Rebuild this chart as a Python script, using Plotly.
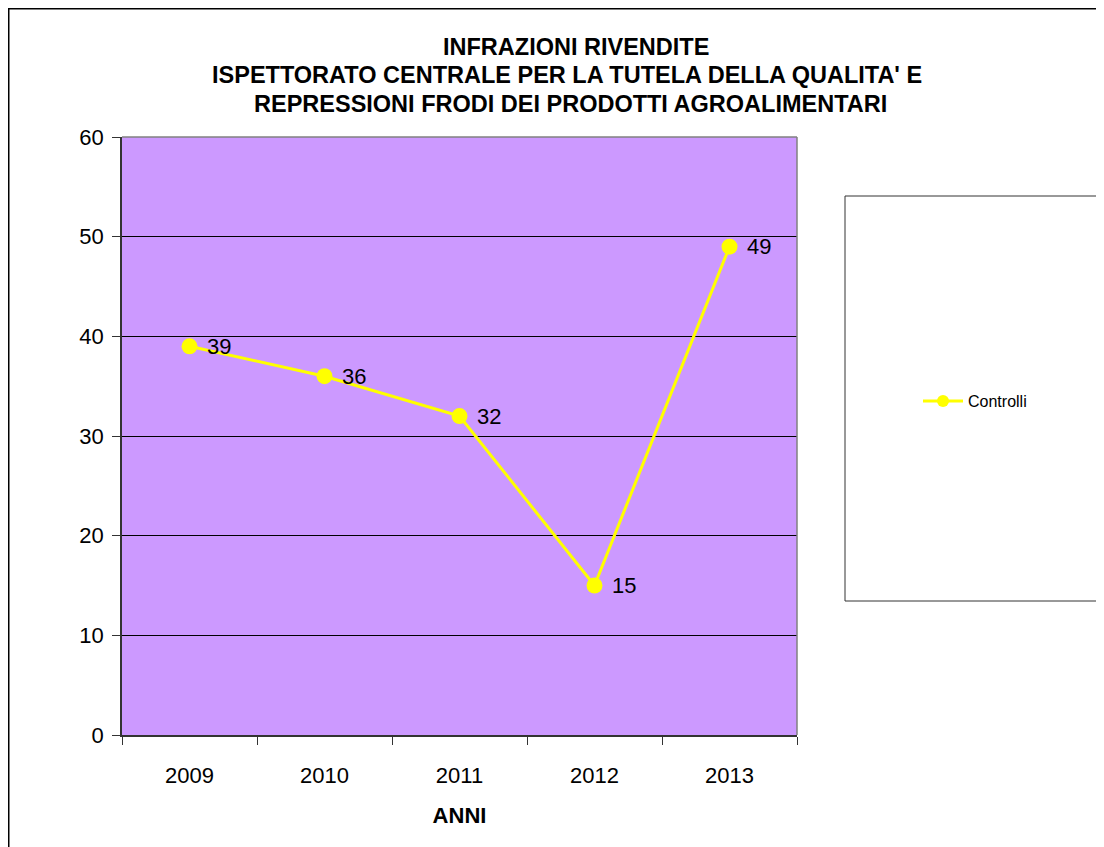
import plotly.graph_objects as go

# ---- data ----
categories = ["2009", "2010", "2011", "2012", "2013"]
values = [39, 36, 32, 15, 49]
series_name = "Controlli"
title_lines = [
    "INFRAZIONI RIVENDITE",
    "ISPETTORATO CENTRALE PER LA TUTELA DELLA QUALITA' E",
    "REPRESSIONI FRODI DEI PRODOTTI AGROALIMENTARI",
]
x_title = "ANNI"
y_ticks = [0, 10, 20, 30, 40, 50, 60]

# ---- layout geometry (figure pixels; page adds an 8px body margin) ----
W, H = 1096, 839
L, T = 114, 129
R, B = W - 789, H - 727
PW = W - L - R
PH = H - T - B


def px_x(p):
    return (p - L) / PW


def px_y(p):
    return (H - B - p) / PH


FONT = "Liberation Sans, Arial, sans-serif"
YELLOW = "#FFFF00"

fig = go.Figure()
fig.add_trace(go.Scatter(
    x=categories, y=values, mode="lines+markers", name=series_name,
    line=dict(color=YELLOW, width=3),
    marker=dict(color=YELLOW, size=16),
    showlegend=False,
))
# legend entry (smaller marker, as in the original legend)
fig.add_trace(go.Scatter(
    x=[None], y=[None], mode="lines+markers", name=series_name,
    line=dict(color=YELLOW, width=3),
    marker=dict(color=YELLOW, size=12),
    showlegend=True,
))

annotations = []
for i, v in enumerate(values):
    annotations.append(dict(
        x=i, y=v, xref="x", yref="y", text=str(v), showarrow=False,
        xanchor="left", yanchor="middle", xshift=15,
        font=dict(family=FONT, size=22, color="black"),
    ))

title_x = [567.5, 559, 562]
title_y = [39, 67.5, 96]
for t, xx, yy in zip(title_lines, title_x, title_y):
    annotations.append(dict(
        x=px_x(xx), y=px_y(yy), xref="paper", yref="paper", text="<b>%s</b>" % t,
        showarrow=False, xanchor="center", yanchor="middle",
        font=dict(family=FONT, size=23.5, color="black"),
    ))

shapes = [
    # outer chart border
    dict(type="rect", xref="paper", yref="paper",
         x0=px_x(0.75), x1=px_x(1110), y0=px_y(860), y1=px_y(0.75),
         line=dict(color="black", width=1.5), fillcolor="rgba(0,0,0,0)", layer="below"),
    # legend box
    dict(type="rect", xref="paper", yref="paper",
         x0=px_x(837), x1=px_x(1110), y0=px_y(593), y1=px_y(188),
         line=dict(color="#333333", width=1), fillcolor="white", layer="below"),
    # plot area top & right border (gray)
    dict(type="line", xref="paper", yref="paper", x0=0, x1=1, y0=1, y1=1,
         line=dict(color="#808080", width=1.5), layer="above"),
    dict(type="line", xref="paper", yref="paper", x0=1, x1=1, y0=0, y1=1,
         line=dict(color="#808080", width=1.5), layer="above"),
]

fig.update_layout(
    width=W, height=H,
    margin=dict(l=L, r=R, t=T, b=B, autoexpand=False),
    paper_bgcolor="white",
    plot_bgcolor="#CC99FF",
    font=dict(family=FONT, size=22, color="black"),
    annotations=annotations,
    shapes=shapes,
    legend=dict(
        x=px_x(910), y=px_y(393), xanchor="left", yanchor="middle",
        xref="paper", yref="paper",
        bgcolor="rgba(0,0,0,0)", borderwidth=0,
        itemwidth=40,
        font=dict(family=FONT, size=16, color="black"),
    ),
    xaxis=dict(
        type="category", categoryorder="array", categoryarray=categories,
        range=[-0.5, len(categories) - 0.5],
        tickson="boundaries", ticks="outside", ticklen=8, tickcolor="#333333",
        showline=True, linecolor="#333333", linewidth=1.5,
        showgrid=False, zeroline=False,
        tickfont=dict(family=FONT, size=22, color="black"),
        ticklabelstandoff=20,
        title=dict(text="<b>%s</b>" % x_title, standoff=20,
                   font=dict(family=FONT, size=22, color="black")),
    ),
    yaxis=dict(
        range=[0, 60], tickvals=y_ticks, ticks="outside", ticklen=8, tickcolor="#333333",
        showline=True, linecolor="#333333", linewidth=1.5,
        showgrid=True, gridcolor="black", gridwidth=1, zeroline=False,
        tickfont=dict(family=FONT, size=22, color="black"),
        ticklabelstandoff=4,
    ),
)

fig.write_html("out.html")
